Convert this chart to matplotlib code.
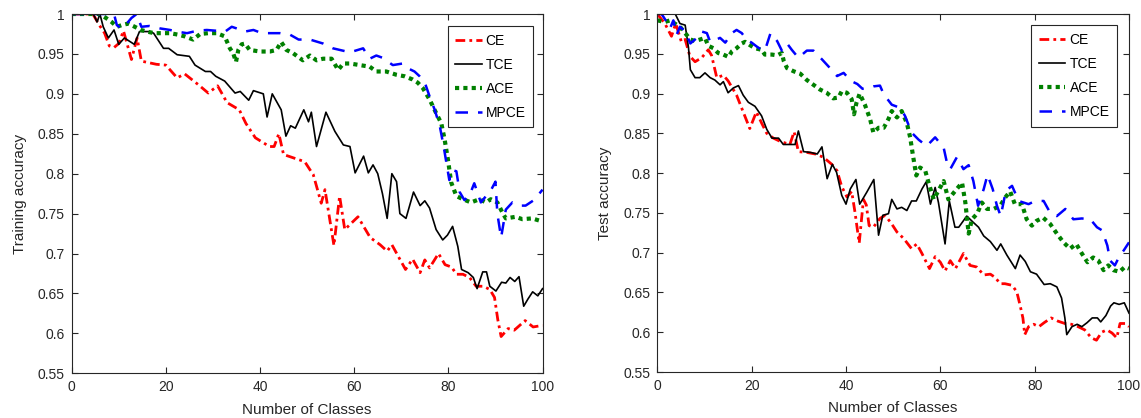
import matplotlib
matplotlib.use("Agg")
import matplotlib.pyplot as plt
from matplotlib.ticker import FixedLocator, FuncFormatter

plt.rcParams['font.family'] = ['Liberation Sans', 'DejaVu Sans']

# ---------------- data: training accuracy (left panel) ----------------
train_ce_x = [0, 4.5, 6, 7, 8, 9, 10, 11, 12.7, 13.9, 14.8, 18, 20, 22.4, 24, 27, 29, 31, 33, 35.6,
              37, 39, 42, 43, 44, 45, 49.5, 50.6, 51.3, 52.3, 53, 53.8, 55.7, 56.9, 58, 60.8, 63.4,
              65.5, 67, 68, 70.9, 72.4, 74, 75, 76, 77.9, 79.3, 80.7, 81.7, 83.1, 84.5, 85.9, 87.4,
              88.8, 89.8, 90.5, 91.2, 92.7, 94, 96.3, 98, 100]
train_ce_y = [1, 1, 0.985, 0.976, 0.96, 0.958, 0.963, 0.979, 0.943, 0.97, 0.941, 0.937, 0.936, 0.92,
              0.925, 0.911, 0.901, 0.91, 0.889, 0.88, 0.863, 0.845, 0.834, 0.834, 0.85, 0.824, 0.815,
              0.805, 0.799, 0.778, 0.763, 0.78, 0.71, 0.772, 0.73, 0.746, 0.72, 0.711, 0.703, 0.711,
              0.68, 0.693, 0.676, 0.692, 0.682, 0.7, 0.686, 0.683, 0.674, 0.674, 0.67, 0.659, 0.659,
              0.655, 0.645, 0.617, 0.596, 0.606, 0.604, 0.616, 0.608, 0.61]

train_tce_x = [0, 4.6, 5.4, 6, 6.7, 7.8, 9, 10, 11.2, 13.3, 14.4, 16.3, 17.4, 19.5, 20.6, 22.4, 25,
               26.2, 28.4, 29.5, 30.6, 32.5, 34.7, 35.8, 37.6, 38.6, 40.7, 41.5, 42.6, 44.5, 45.5,
               46.5, 47.5, 49.3, 50.3, 50.9, 52, 54, 55.9, 57.7, 59.1, 60.2, 62, 63, 64, 65, 66, 67,
               68, 69, 69.7, 71, 72.6, 74, 75, 76, 77.4, 78.8, 79.8, 80.9, 82, 82.8, 84.2, 85.3,
               86.1, 87.3, 88.1, 88.8, 90.1, 91.3, 92.2, 93.1, 94.1, 95, 96, 96.9, 97.9, 99, 100]
train_tce_y = [1, 1, 0.99, 1.0, 0.984, 0.97, 0.98, 0.962, 0.97, 0.962, 0.978, 0.978, 0.976, 0.957,
               0.957, 0.949, 0.947, 0.936, 0.928, 0.928, 0.922, 0.916, 0.901, 0.903, 0.892, 0.904,
               0.9, 0.871, 0.9, 0.88, 0.847, 0.86, 0.857, 0.88, 0.865, 0.877, 0.834, 0.877, 0.853,
               0.836, 0.834, 0.801, 0.822, 0.801, 0.811, 0.8, 0.775, 0.744, 0.8, 0.79, 0.75, 0.744,
               0.777, 0.76, 0.766, 0.757, 0.73, 0.717, 0.723, 0.734, 0.709, 0.68, 0.676, 0.67, 0.656,
               0.677, 0.677, 0.659, 0.653, 0.664, 0.663, 0.67, 0.665, 0.671, 0.634, 0.643, 0.652,
               0.647, 0.656]

train_ace_x = [0, 6, 7.8, 8.5, 9.6, 10.6, 12, 13.4, 14.7, 16, 17.5, 19, 20.9, 22.7, 24, 25.8, 27.3,
               29, 30.8, 32.5, 33.6, 34.3, 34.9, 35.4, 36.1, 36.8, 37.8, 40, 42.1, 43.5, 44.5, 45.6,
               47, 49.1, 50.6, 52, 53.4, 55.2, 56.6, 57.7, 59.1, 61.2, 63.3, 64.7, 66.8, 68.9, 70.7,
               72.4, 73.5, 74.6, 76, 77.4, 78.5, 79.2, 79.9, 80.6, 81.7, 83.1, 84.8, 86.6, 88, 89,
               90.4, 91.5, 92.2, 94.3, 95.7, 97.8, 100]
train_ace_y = [1, 1, 0.993, 0.99, 0.984, 0.986, 0.988, 0.984, 0.98, 0.978, 0.976, 0.976, 0.976, 0.974,
               0.972, 0.968, 0.975, 0.976, 0.976, 0.972, 0.957, 0.951, 0.94, 0.955, 0.962, 0.963,
               0.955, 0.953, 0.953, 0.955, 0.965, 0.955, 0.951, 0.942, 0.948, 0.942, 0.944, 0.944,
               0.93, 0.938, 0.938, 0.936, 0.934, 0.928, 0.928, 0.924, 0.922, 0.918, 0.914, 0.907,
               0.893, 0.876, 0.863, 0.843, 0.818, 0.789, 0.772, 0.768, 0.764, 0.768, 0.764, 0.768,
               0.764, 0.751, 0.744, 0.746, 0.743, 0.744, 0.740]

train_mpce_x = [0, 9, 9.6, 10.6, 11.7, 12.7, 13.8, 14.8, 16.5, 18.7, 20.9, 22.3, 24.5, 26.6, 28.7,
                30.8, 32.6, 34, 35, 36.8, 38.6, 40.4, 42.1, 44.3, 46.4, 48.2, 50.6, 53.4, 55.5, 59.1,
                61.9, 63.3, 64.7, 66.1, 68.2, 70.3, 71.4, 72.8, 73.9, 75, 76, 77.1, 78.2, 79, 79.6,
                80.2, 80.6, 81.7, 82.4, 83.4, 84.5, 85.5, 86.9, 88, 89.1, 90, 90.4, 91.2, 92.2, 93.6,
                95, 96.4, 98.2, 100]
train_mpce_y = [1, 1, 0.986, 0.982, 0.988, 0.995, 1.0, 0.984, 0.985, 0.982, 0.98, 0.978, 0.976, 0.979,
                0.98, 0.979, 0.978, 0.984, 0.982, 0.978, 0.98, 0.976, 0.976, 0.976, 0.974, 0.968,
                0.968, 0.963, 0.957, 0.952, 0.957, 0.944, 0.948, 0.945, 0.936, 0.938, 0.932, 0.928,
                0.922, 0.914, 0.897, 0.88, 0.859, 0.834, 0.813, 0.792, 0.805, 0.803, 0.777, 0.767,
                0.773, 0.788, 0.764, 0.772, 0.78, 0.79, 0.75, 0.72, 0.755, 0.764, 0.76, 0.76, 0.767,
                0.78]

# ---------------- data: test accuracy (right panel) ----------------
test_ce_x = [0, 1.6, 3, 3.9, 5.1, 5.9, 6.9, 8, 9.4, 10.8, 11.5, 12.6, 14, 15, 16.8, 18.2, 19.6, 21,
             22.1, 23.2, 24.6, 26, 28.1, 29, 29.9, 31.7, 33.5, 35.2, 37, 38.1, 39.1, 40.2, 41.2,
             41.9, 42.8, 43.7, 44.3, 44.9, 45.8, 47.2, 48.3, 49.7, 50.8, 52.2, 53.9, 55, 56.1,
             57.7, 58.9, 60, 61, 62.1, 63.2, 64.9, 66.3, 67.7, 69.2, 70.6, 71.6, 72.7, 73.7, 75.2,
             76.2, 76.9, 77.5, 77.9, 78.7, 79.8, 80.9, 82, 83.5, 84.9, 86.4, 87.8, 89.2, 90.6, 92,
             93.1, 94.2, 95.3, 96.4, 97.4, 98.1, 99.2, 100]
test_ce_y = [1, 0.988, 0.972, 0.988, 0.965, 0.968, 0.947, 0.94, 0.945, 0.955, 0.948, 0.92, 0.923,
             0.916, 0.898, 0.877, 0.856, 0.877, 0.863, 0.85, 0.844, 0.84, 0.836, 0.852, 0.827,
             0.826, 0.824, 0.82, 0.811, 0.803, 0.783, 0.77, 0.777, 0.751, 0.712, 0.767, 0.76,
             0.734, 0.732, 0.743, 0.747, 0.736, 0.726, 0.718, 0.705, 0.711, 0.699, 0.68, 0.695,
             0.688, 0.677, 0.69, 0.68, 0.699, 0.684, 0.682, 0.672, 0.673, 0.669, 0.661, 0.661,
             0.659, 0.651, 0.634, 0.618, 0.597, 0.607, 0.61, 0.607, 0.612, 0.618, 0.614, 0.611,
             0.61, 0.607, 0.603, 0.593, 0.59, 0.6, 0.603, 0.599, 0.593, 0.611, 0.611, 0.607]

test_tce_x = [0, 3.8, 4.8, 5.9, 6.6, 7, 8, 9, 10.1, 11.2, 12.2, 13.3, 14, 15, 16.1, 17.2, 18.2, 19.3,
              20.7, 22.1, 23.2, 24.3, 25.7, 26.7, 28.1, 29.2, 29.9, 31, 32.5, 33.9, 34.9, 36, 37.1,
              38, 39.1, 40, 40.9, 42.1, 42.9, 44.4, 45.9, 46.9, 47.8, 49, 49.7, 50.8, 51.8, 52.9,
              53.9, 54.9, 56.1, 57, 57.9, 58.9, 59.6, 61, 61.9, 63.1, 63.9, 65.6, 67, 68.1, 69.2,
              70.6, 72, 72.8, 74.1, 75.9, 76.9, 78, 79.1, 80.4, 82, 83.3, 84.7, 85.7, 86.4, 86.8,
              87.9, 89, 90, 91.1, 92.2, 93.3, 94, 95.1, 96.1, 96.8, 97.9, 99, 100]
test_tce_y = [1, 1, 0.988, 0.986, 0.958, 0.93, 0.92, 0.92, 0.926, 0.92, 0.917, 0.911, 0.915, 0.901,
              0.907, 0.91, 0.898, 0.889, 0.884, 0.872, 0.855, 0.844, 0.844, 0.836, 0.836, 0.836,
              0.853, 0.827, 0.826, 0.824, 0.833, 0.793, 0.811, 0.801, 0.772, 0.761, 0.78, 0.792,
              0.761, 0.776, 0.792, 0.722, 0.747, 0.749, 0.767, 0.755, 0.757, 0.753, 0.765, 0.765,
              0.78, 0.789, 0.761, 0.782, 0.763, 0.711, 0.765, 0.732, 0.732, 0.746, 0.738, 0.732,
              0.721, 0.714, 0.703, 0.711, 0.697, 0.68, 0.697, 0.689, 0.676, 0.673, 0.66, 0.661,
              0.657, 0.643, 0.618, 0.597, 0.607, 0.61, 0.607, 0.612, 0.618, 0.618, 0.613, 0.621,
              0.633, 0.637, 0.635, 0.637, 0.624]

test_ace_x = [0, 1.6, 2.7, 3.7, 4.8, 5.9, 7, 8, 9.1, 10.1, 10.8, 11.9, 12.9, 14, 15.1, 15.8, 16.8,
              17.9, 18.6, 19.6, 20.7, 22.1, 22.8, 24.3, 25.4, 26.4, 26.8, 27.5, 28.9, 30.3, 31.7,
              33.1, 34.5, 35.9, 37.3, 38.4, 39.1, 40.2, 41.2, 41.7, 42.2, 42.9, 44, 45.1, 45.8,
              46.9, 48, 49, 49.7, 50.8, 51.8, 52.9, 53.6, 54.2, 54.9, 55.7, 56.8, 57.5, 58.6,
              59.6, 60.7, 61.7, 63.2, 64.6, 65.3, 66, 66.7, 67.8, 68.8, 69.9, 71.3, 72.7, 73.7,
              74.8, 75.8, 77.3, 78.3, 79.4, 80.4, 81.8, 83.3, 84.7, 86.1, 87.5, 88.8, 90, 91.2,
              92.4, 93.5, 94.6, 95.6, 96.7, 98, 99.1, 100]
test_ace_y = [0.992, 0.99, 0.992, 0.988, 0.984, 0.976, 0.968, 0.966, 0.968, 0.97, 0.96, 0.957, 0.951,
              0.949, 0.946, 0.953, 0.957, 0.963, 0.965, 0.961, 0.957, 0.955, 0.949, 0.949, 0.948,
              0.951, 0.941, 0.932, 0.928, 0.925, 0.917, 0.911, 0.905, 0.901, 0.894, 0.895, 0.903,
              0.901, 0.893, 0.874, 0.888, 0.9, 0.886, 0.868, 0.851, 0.857, 0.857, 0.868, 0.878,
              0.87, 0.878, 0.863, 0.845, 0.822, 0.797, 0.807, 0.803, 0.788, 0.767, 0.778, 0.79,
              0.767, 0.778, 0.788, 0.763, 0.724, 0.742, 0.749, 0.763, 0.755, 0.755, 0.759, 0.769,
              0.777, 0.761, 0.761, 0.742, 0.734, 0.74, 0.744, 0.736, 0.724, 0.713, 0.705, 0.711,
              0.699, 0.688, 0.694, 0.69, 0.678, 0.684, 0.678, 0.676, 0.682, 0.68]

test_mpce_x = [0, 0.9, 2, 2.7, 3.4, 4.1, 4.8, 5.9, 7, 8.4, 9.4, 10.5, 11.2, 12.2, 13.3, 14.4, 15.8,
               16.8, 17.9, 18.9, 20, 21.1, 22.1, 22.8, 24, 25.4, 26.4, 27.5, 28.5, 29.9, 31.7, 33.1,
               34.9, 36.3, 38.1, 39.5, 41, 42.4, 43.5, 44.4, 45.8, 47.2, 48, 49.7, 51.5, 52.5, 53.9,
               55.4, 57.1, 58.9, 60.7, 61.4, 62.1, 63.5, 64.9, 66, 67, 68, 69.2, 70, 71.1, 72, 72.8,
               73.9, 75.2, 76.6, 78.7, 80.1, 81.9, 83.3, 84.7, 86.5, 88.2, 90, 91.8, 93.2, 94.3,
               95.4, 96, 97, 98, 98.9, 100]
test_mpce_y = [1, 1, 0.99, 0.982, 0.992, 0.974, 0.984, 0.978, 0.963, 0.97, 0.978, 0.976, 0.965,
               0.967, 0.97, 0.964, 0.976, 0.98, 0.976, 0.968, 0.964, 0.959, 0.955, 0.954, 0.976,
               0.966, 0.954, 0.963, 0.955, 0.945, 0.954, 0.954, 0.943, 0.934, 0.922, 0.926, 0.916,
               0.912, 0.906, 0.906, 0.909, 0.91, 0.899, 0.886, 0.882, 0.872, 0.851, 0.842, 0.834,
               0.845, 0.832, 0.813, 0.805, 0.82, 0.805, 0.81, 0.79, 0.759, 0.78, 0.798, 0.78, 0.759,
               0.746, 0.778, 0.784, 0.765, 0.761, 0.765, 0.765, 0.75, 0.746, 0.755, 0.742, 0.743,
               0.742, 0.732, 0.728, 0.709, 0.69, 0.684, 0.696, 0.703, 0.713]

labels = ['CE', 'TCE', 'ACE', 'MPCE']
x_ticks = [0, 20, 40, 60, 80, 100]
y_ticks = [0.55, 0.6, 0.65, 0.7, 0.75, 0.8, 0.85, 0.9, 0.95, 1]
x_label = 'Number of Classes'
y_labels = ['Training accuracy', 'Test accuracy']

styles = [
    dict(color='#ff0000', linestyle=(0, (3.5, 1.5, 1, 1.5)), linewidth=2.0),
    dict(color='#000000', linestyle='-', linewidth=1.2),
    dict(color='#008000', linestyle=(0, (1, 1)), linewidth=3.0),
    dict(color='#0000ff', linestyle=(0, (5, 4)), linewidth=1.8),
]

fig = plt.figure(figsize=(11.41, 4.18), dpi=100)
ax1 = fig.add_axes([0.0628, 0.107, 0.4127, 0.8595])
ax2 = fig.add_axes([0.5761, 0.110, 0.4134, 0.8565])

panels = [
    (ax1, [(train_ce_x, train_ce_y), (train_tce_x, train_tce_y),
           (train_ace_x, train_ace_y), (train_mpce_x, train_mpce_y)], y_labels[0],
     (0.9805, 0.9666)),
    (ax2, [(test_ce_x, test_ce_y), (test_tce_x, test_tce_y),
           (test_ace_x, test_ace_y), (test_mpce_x, test_mpce_y)], y_labels[1],
     (0.975, 0.968)),
]

fmt = FuncFormatter(lambda v, p: ('%g' % round(v, 2)))
axis_col = '#262626'

for ax, series, ylab, anchor in panels:
    for (xs, ys), lab, st in zip(series, labels, styles):
        ax.plot(xs, ys, label=lab, **st)
    ax.set_xlim(0, 100)
    ax.set_ylim(0.55, 1.0)
    ax.xaxis.set_major_locator(FixedLocator(x_ticks))
    ax.yaxis.set_major_locator(FixedLocator(y_ticks))
    ax.yaxis.set_major_formatter(fmt)
    ax.tick_params(direction='in', top=True, right=True, length=4, width=0.8,
                   labelsize=10, colors=axis_col, pad=5)
    for sp in ax.spines.values():
        sp.set_color(axis_col)
        sp.set_linewidth(0.8)
    ax.set_xlabel(x_label, fontsize=11, color=axis_col, labelpad=6)
    ax.set_ylabel(ylab, fontsize=11, color=axis_col, labelpad=8)
    leg = ax.legend(loc='upper right', bbox_to_anchor=anchor, borderaxespad=0,
                    fancybox=False, framealpha=1, edgecolor='#262626', fontsize=10,
                    handlelength=1.9, handletextpad=0.3, labelspacing=0.72,
                    borderpad=0.55)
    leg.get_frame().set_linewidth(0.8)

fig.savefig('out.png', dpi=100)
